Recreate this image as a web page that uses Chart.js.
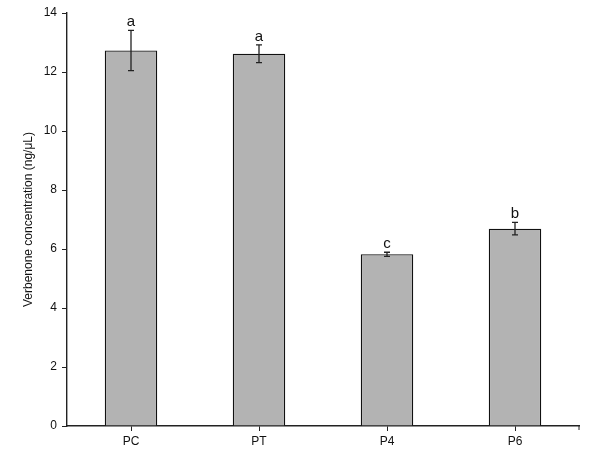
<!DOCTYPE html>
<html>
<head>
<meta charset="utf-8">
<script src="https://cdn.jsdelivr.net/npm/chart.js@4"></script>
<style>
  body { margin: 0; background: #fff; }
  #wrap { width: 604px; height: 455px; }
</style>
</head>
<body>
<div id="wrap"><canvas id="myChart" width="604" height="455"></canvas></div>
<script>
// data
const categories = ["PC", "PT", "P4", "P6"];
const means = [12.73, 12.62, 5.82, 6.69];
const errors = [0.68, 0.30, 0.07, 0.21];
const letters = ["a", "a", "c", "b"];
const yTicks = [0, 2, 4, 6, 8, 10, 12, 14];

// error bars + significance letters, positioned through the scales
const errorBarPlugin = {
  id: "errorBars",
  afterDatasetsDraw(chart) {
    const ctx = chart.ctx;
    const x = chart.scales.x;
    const y = chart.scales.y;
    ctx.save();
    means.forEach((m, i) => {
      const cx = x.getPixelForValue(i);
      const top = y.getPixelForValue(m + errors[i]);
      const bot = y.getPixelForValue(m - errors[i]);
      ctx.strokeStyle = "#222";
      ctx.lineWidth = 1.3;
      ctx.beginPath();
      ctx.moveTo(cx, top); ctx.lineTo(cx, bot);
      ctx.moveTo(cx - 3, top); ctx.lineTo(cx + 3, top);
      ctx.moveTo(cx - 3, bot); ctx.lineTo(cx + 3, bot);
      ctx.stroke();
      ctx.fillStyle = "#111";
      ctx.font = "15px 'Liberation Sans', Arial, sans-serif";
      ctx.textAlign = "center";
      ctx.textBaseline = "alphabetic";
      ctx.fillText(letters[i], cx, top - 4);
    });
    // little tick at the right end of the x axis
    ctx.strokeStyle = "#222";
    ctx.lineWidth = 1;
    ctx.beginPath();
    ctx.moveTo(chart.chartArea.right, chart.chartArea.bottom);
    ctx.lineTo(chart.chartArea.right, chart.chartArea.bottom + 4);
    ctx.stroke();
    ctx.restore();
  }
};

function mainEvent() {
  const chartTarget = document.querySelector("#myChart");
  const data = {
    labels: categories,
    datasets: [{
      data: means,
      backgroundColor: "#b3b3b3",
      borderColor: "#111",
      borderWidth: 1.3,
      categoryPercentage: 1,
      barPercentage: 0.41
    }]
  };

  const config = {
    type: "bar",
    data: data,
    options: {
      responsive: false,
      animation: false,
      layout: { padding: { top: 13, right: 25, left: 0, bottom: 0 } },
      plugins: {
        legend: { display: false },
        tooltip: { enabled: false }
      },
      scales: {
        x: {
          grid: { display: true, drawOnChartArea: false, drawTicks: true, tickLength: 5, offset: false, color: "#222" },
          border: { display: true, color: "#222", width: 1.4 },
          ticks: { color: "#111", font: { family: "'Liberation Sans', Arial, sans-serif", size: 12 }, padding: 3 },
          afterFit: (scale) => { scale.height = 29; }
        },
        y: {
          min: 0,
          max: 14,
          afterBuildTicks: (scale) => { scale.ticks = yTicks.map((v) => ({ value: v })); },
          grid: { display: true, drawOnChartArea: false, drawTicks: true, tickLength: 5, color: "#222" },
          border: { display: true, color: "#222", width: 1.4 },
          ticks: { color: "#111", font: { family: "'Liberation Sans', Arial, sans-serif", size: 12 }, padding: 5 },
          title: {
            display: true,
            text: "Verbenone concentration (ng/\u03bcL)",
            color: "#111",
            font: { family: "'Liberation Sans', Arial, sans-serif", size: 12 },
            padding: { top: 21, bottom: 0 }
          },
          afterFit: (scale) => { scale.width = 67; }
        }
      }
    },
    plugins: [errorBarPlugin]
  };

  return new Chart(chartTarget, config);
}
document.addEventListener("DOMContentLoaded", () => mainEvent());
</script>
</body>
</html>
